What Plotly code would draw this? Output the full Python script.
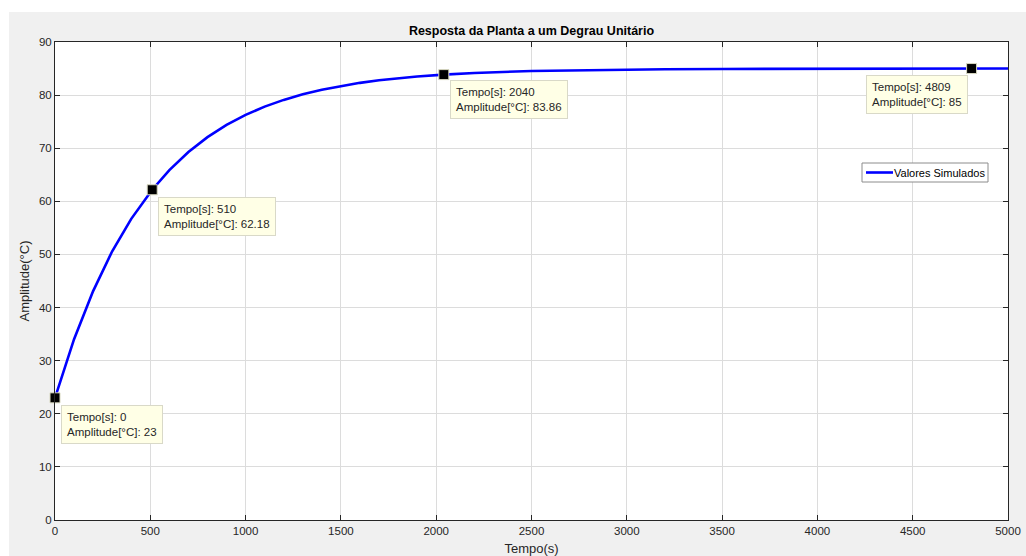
import plotly.graph_objects as go

# Simulated step response of the plant (time in s, temperature in °C)
tempo = [0, 100, 200, 300, 400, 510, 600, 700, 800, 900, 1000, 1100, 1200,
         1300, 1400, 1500, 1600, 1700, 1800, 1900, 2040, 2200, 2500, 2800,
         3200, 3500, 4000, 4809, 5000]
amplitude = [23, 34.04, 43.1, 50.6, 56.7, 62.18, 65.87, 69.29, 72.09, 74.39,
             76.28, 77.83, 79.1, 80.15, 81.02, 81.73, 82.31, 82.79, 83.18,
             83.5, 83.86, 84.17, 84.54, 84.74, 84.88, 84.93, 84.98, 85, 85]

# Data tips
tip_t = [0, 510, 2040, 4809]
tip_a = [23, 62.18, 83.86, 85]
tip_shift = [(6, -7), (6, -7), (6, -5), (-106, -6)]

x_ticks = [0, 500, 1000, 1500, 2000, 2500, 3000, 3500, 4000, 4500, 5000]
y_ticks = [0, 10, 20, 30, 40, 50, 60, 70, 80, 90]

series_name = "Valores Simulados"

FONT = "Liberation Sans, Arial, sans-serif"
INK = "#262626"
BLUE = "#0000ff"

W, H = 1026, 556
L, R, T, B = 55, 18, 42, 36
PW = W - L - R
PH = H - T - B


def px_x(p):
    """Pixel column -> paper x."""
    return (p - L) / PW


def px_y(p):
    """Pixel row -> paper y."""
    return 1 - (p - T) / PH


fig = go.Figure()
fig.add_trace(go.Scatter(
    x=tempo, y=amplitude, mode="lines", name=series_name,
    line=dict(color=BLUE, width=2.6), hoverinfo="skip", showlegend=False,
))
fig.add_trace(go.Scatter(
    x=tip_t, y=tip_a, mode="markers", showlegend=False,
    marker=dict(symbol="square", size=10, color="black",
                line=dict(color="#d8d8c0", width=1)),
    cliponaxis=False, hoverinfo="skip",
))

for t, a, (dx, dy) in zip(tip_t, tip_a, tip_shift):
    fig.add_annotation(
        x=t, y=a, xref="x", yref="y", showarrow=False,
        text=f"Tempo[s]: {t}<br>Amplitude[°C]: {a:g}",
        xanchor="left", yanchor="top", align="left",
        xshift=dx, yshift=dy,
        font=dict(family=FONT, size=11.5, color=INK),
        bgcolor="#ffffe6", bordercolor="#d9d9c8", borderwidth=1, borderpad=5,
    )

# White strips outside the grey figure window
fig.add_shape(type="rect", xref="paper", yref="paper",
              x0=px_x(-5), x1=px_x(1040), y0=px_y(12), y1=px_y(-5),
              fillcolor="white", line=dict(width=0), layer="below")
fig.add_shape(type="rect", xref="paper", yref="paper",
              x0=px_x(-5), x1=px_x(9), y0=px_y(570), y1=px_y(-5),
              fillcolor="white", line=dict(width=0), layer="below")

# Legend box
fig.add_shape(type="rect", xref="paper", yref="paper",
              x0=px_x(862), x1=px_x(988), y0=px_y(182), y1=px_y(163),
              fillcolor="white", line=dict(color="#8c8c8c", width=1))
fig.add_shape(type="line", xref="paper", yref="paper",
              x0=px_x(866), x1=px_x(893), y0=px_y(172.5), y1=px_y(172.5),
              line=dict(color=BLUE, width=2.6))
fig.add_annotation(xref="paper", yref="paper", x=px_x(893), y=px_y(172.5),
                   text=series_name, showarrow=False, xanchor="left",
                   yanchor="middle", borderpad=0,
                   font=dict(family=FONT, size=11, color="black"))

axis_common = dict(
    showline=True, linecolor=INK, linewidth=1, mirror="allticks",
    ticks="inside", ticklen=5, tickcolor=INK, tickwidth=1,
    showgrid=True, gridcolor="#dcdcdc", gridwidth=1, zeroline=False,
    tickfont=dict(family=FONT, size=11.5, color=INK), automargin=False,
)

fig.update_layout(
    width=W, height=H,
    margin=dict(l=L, r=R, t=T, b=B),
    paper_bgcolor="#f0f0f0", plot_bgcolor="white",
    title=dict(text="<b>Resposta da Planta a um Degrau Unitário</b>",
               x=0.5, xref="paper", xanchor="center",
               y=1 - 31 / H, yanchor="middle",
               font=dict(family=FONT, size=12.5, color="black"),
               automargin=False),
    xaxis=dict(range=[0, 5000], tickvals=x_ticks, **axis_common,
               title=dict(text="Tempo(s)", standoff=9,
                          font=dict(family=FONT, size=13, color=INK))),
    yaxis=dict(range=[0, 90], tickvals=y_ticks, **axis_common,
               title=dict(text="Amplitude(°C)", standoff=6,
                          font=dict(family=FONT, size=13, color=INK))),
    showlegend=False,
)

fig.write_html("out.html")
